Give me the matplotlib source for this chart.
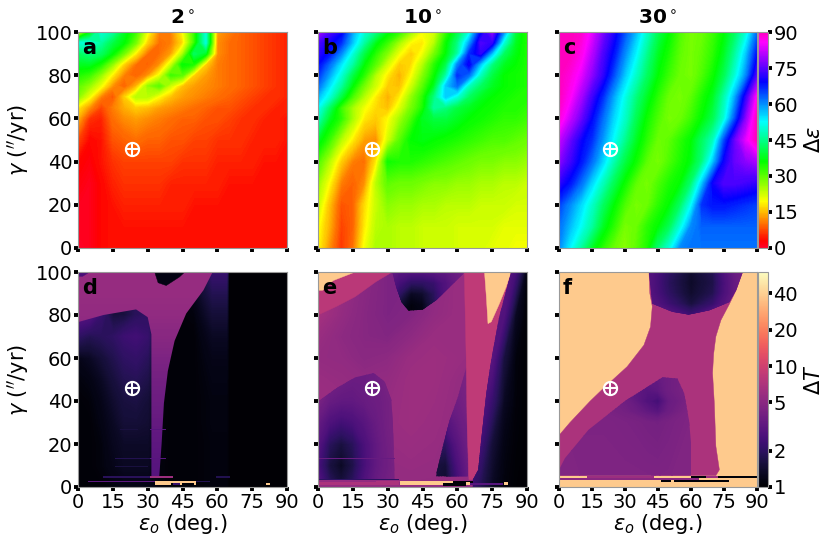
import numpy as np
import matplotlib
matplotlib.use('Agg')
import matplotlib.pyplot as plt
from matplotlib.colors import LogNorm, Normalize
from matplotlib.cm import ScalarMappable

# ---------------- panel titles / labels ----------------
titles = ['2', '10', '30']
letters = ['a', 'b', 'c', 'd', 'e', 'f']
xticks = [0, 15, 30, 45, 60, 75, 90]
yticks = [0, 20, 40, 60, 80, 100]
cb1_ticks = [0, 15, 30, 45, 60, 75, 90]
cb2_ticks = [1, 2, 5, 10, 20, 40]
earth_eps, earth_gam = 23.4, 46

# ---------------- top row: Delta epsilon ----------------
eps5 = [0, 5, 10, 15, 20, 25, 30, 35, 40, 45, 50, 55, 60, 65, 70, 75, 80, 85, 90]
gam_a = [0, 10, 20, 30, 40, 50, 60, 65, 70, 75, 80, 85, 90, 95, 100]
a_vals = [
    [0,1,3,4,4,4,4,4,4,4,4,4,4,4,4,4,4,4,4],
    [1,1,3,4,4,4,4,4,4,4,4,4,4,4,4,4,4,4,4],
    [1,1,3,4,5,5,5,5,5,5,4,4,4,4,4,4,4,4,4],
    [2,1,3,5,6,6,6,6,5,5,5,5,5,4,4,4,4,4,4],
    [3,2,4,6,7,7,7,7,7,6,6,6,5,5,5,5,4,4,4],
    [7,3,4,8,9,10,9,9,8,8,7,7,6,6,6,5,5,5,4],
    [14,6,5,10,12,13,12,11,10,9,9,8,8,7,6,6,5,5,4],
    [18,12,7,11,14,16,15,13,12,11,10,9,8,8,7,6,6,5,5],
    [27,20,11,8,16,24,24,19,15,13,12,11,10,9,8,7,6,6,5],
    [30,26,20,12,9,14,26,30,22,15,13,12,11,10,9,8,7,6,5],
    [34,32,26,18,11,9,12,20,32,30,16,13,11,10,9,8,7,6,5],
    [38,38,34,26,16,10,9,12,22,36,34,16,11,10,9,8,7,6,5],
    [42,44,42,36,28,18,10,10,13,24,42,38,12,10,9,8,7,6,5],
    [50,50,46,40,36,28,16,10,11,17,32,50,12,10,9,8,7,6,5],
    [18,35,50,46,38,32,20,11,11,19,32,50,13,11,9,8,7,6,5],
]
gam_b = [0, 10, 20, 30, 40, 50, 60, 65, 70, 75, 80, 85, 90, 95, 100]
b_vals = [
    [19,12,6,10,20,25,25,24,24,23,23,23,22,22,22,21,21,20,20],
    [20,14,7,9,18,24,25,24,24,23,23,23,22,22,22,22,21,21,21],
    [23,15,8,9,17,23,27,26,26,25,25,24,24,24,23,23,23,22,22],
    [26,19,11,9,12,24,30,29,29,28,27,27,26,26,25,25,24,24,23],
    [31,24,16,11,10,18,35,34,34,33,32,31,30,29,28,28,27,27,26],
    [38,32,24,18,13,12,22,30,36,37,36,35,34,33,32,31,31,30,29],
    [48,38,33,25,18,16,19,25,31,38,40,40,38,36,35,34,33,33,32],
    [52,42,32,25,20,17,15,21,28,34,46,44,40,38,36,35,34,34,33],
    [57,50,40,31,24,18,14,18,26,33,44,56,50,42,38,36,35,34,34],
    [62,54,46,36,28,22,16,15,22,30,38,56,62,48,42,38,36,35,34],
    [66,58,50,40,33,24,18,14,19,27,35,46,66,62,48,40,36,35,34],
    [69,62,54,46,36,30,22,16,17,24,33,40,60,70,56,44,38,36,34],
    [72,68,60,50,40,33,27,20,16,20,28,36,46,66,72,56,42,37,34],
    [74,70,66,56,46,37,32,25,19,18,24,35,44,58,74,72,50,38,34],
    [80,74,70,58,50,44,37,33,26,20,22,32,40,50,68,78,60,40,33],
]
gam_c = [0, 10, 20, 30, 40, 50, 60, 70, 80, 90, 100]
c_vals = [
    [60,53,46,38,33,29,27,30,34,43,50,60,62,62,62,62,62,62,62],
    [62,57,52,46,38,33,28,29,33,36,41,50,60,63,63,63,63,63,63],
    [65,60,55,49,42,36,31,28,29,33,36,42,52,66,68,68,67,66,65],
    [72,68,62,55,48,41,35,30,28,31,34,36,43,56,70,74,74,73,72],
    [78,73,68,62,55,47,40,35,30,28,31,34,37,44,56,70,76,78,80],
    [82,76,70,66,59,52,45,38,33,29,30,33,36,42,48,64,76,84,90],
    [88,82,76,69,62,55,49,41,35,31,28,29,32,36,41,50,64,78,90],
    [90,86,80,73,66,58,51,44,38,33,29,28,30,34,38,47,58,72,86],
    [90,88,84,78,72,64,56,49,42,36,32,29,28,31,35,41,50,60,74],
    [90,90,87,81,74,68,60,53,45,38,34,30,28,30,33,38,46,56,68],
    [90,90,89,84,77,71,64,57,49,41,36,31,28,29,32,36,42,50,62],
]

# ---------------- bottom row: Delta T ----------------
PEACH = 38
gam10 = [0, 10, 20, 30, 40, 50, 60, 70, 80, 90, 100]

# panel d
d_eps = [0, 5, 10, 15, 20, 25, 30, 35, 40, 50, 58, 64, 65, 90]
d_base = [
    [1.05,1.05,1.05,1.1,1.15,1.15,1.15,1.1,1.05,1.05,1.1,1.1,1.03,1.02],
    [1.05,1.05,1.1,1.2,1.3,1.3,1.3,1.1,1.05,1.05,1.1,1.1,1.03,1.02],
    [1.05,1.05,1.1,1.25,1.35,1.35,1.35,1.1,1.05,1.05,1.1,1.1,1.03,1.02],
    [1.05,1.05,1.15,1.3,1.5,1.5,1.45,1.1,1.05,1.05,1.12,1.12,1.03,1.02],
    [1.05,1.08,1.2,1.4,1.6,1.65,1.5,1.1,1.05,1.05,1.12,1.12,1.03,1.02],
    [1.1,1.15,1.3,1.55,1.8,1.85,1.7,1.1,1.05,1.05,1.15,1.15,1.03,1.02],
    [1.2,1.3,1.5,1.75,2.0,2.1,1.9,1.1,1.05,1.05,1.2,1.2,1.03,1.02],
    [2.0,1.8,1.9,2.0,2.3,2.4,2.2,1.1,1.05,1.05,1.3,1.3,1.03,1.02],
    [3.0,2.8,2.2,1.6,1.6,1.9,2.0,1.1,1.05,1.1,1.5,1.5,1.03,1.02],
    [3.0,2.8,2.2,1.6,1.6,1.9,2.0,1.1,1.05,1.2,1.8,1.8,1.03,1.02],
    [3.0,2.8,2.2,1.6,1.6,1.9,2.0,1.1,1.05,1.3,2.2,2.2,1.03,1.02],
]
d_t_eps = [0, 58, 54, 46.6, 41.6, 38.7, 37, 36, 35, 31.6, 31.6, 30, 25, 11, 0]
d_t_gam = [100, 100, 91.5, 80.7, 68, 54, 39, 20, 5, 5, 71, 79, 82.6, 80, 76.7]
d_t_vals = [2.9, 3.0, 3.2, 3.4, 3.7, 4.0, 4.4, 4.9, 5.4, 5.7, 5.7]
d_blob_eps = [33, 34.5, 38, 43.7, 46]
d_blob_gam = [100, 95, 93.7, 97.7, 100]
d_corner_eps = [0, 5, 2, 0]
d_corner_gam = [100, 100, 98, 98]
d_strip_lo = [33, 40.2, 43.8, 50, 4.3, 30.8, 10.8, 40.9, 51, 59.5, 81, 15.8, 30.8, 18, 30.8, 16]
d_strip_hi = [40.2, 51, 44.9, 51, 33, 40.9, 30.8, 43.8, 56.7, 65.6, 82.8, 30.8, 37.7, 26, 37.7, 30]
d_strip_bot = [1.1, 2, 1.1, 1.1, 2.2, 4, 4, 1.1, 2.2, 4, 0.9, 13, 13, 26.4, 26.4, 9.3]
d_strip_top = [2.9, 2.9, 2, 2, 2.9, 4.9, 4.9, 2, 2.9, 4.9, 2, 13.6, 13.6, 27, 27, 9.9]
d_strip_val = [PEACH, PEACH, PEACH, PEACH, 3.2, 6, 1.9, 2.2, 1.8, 1.8, PEACH, 1.8, 3, 1.6, 3, 1.6]

# panel e
e_eps = [0, 10, 20, 30, 40, 50, 60, 90]
e_gam = [0, 30, 50, 60, 70, 80, 100]
e_base = [
    [5.5,5.5,5.5,5.5,5.5,5.5,5.5,5],
    [6,6,6,5.8,6,5.8,5.5,5],
    [5.8,5.6,5.4,5.5,6,6,5.6,5],
    [5.5,5.4,5,5.2,5.8,6,5.8,5],
    [5.8,5.2,4.8,4.6,5.2,5.8,5.8,5],
    [6.5,5.5,4.8,4.4,4.6,5.4,5.8,5],
    [7,6,5,4.4,4.4,5,5.8,5],
]
e_pink_eps = [0, 32, 25, 16, 8, 0]
e_pink_gam = [100, 100, 95.5, 88.5, 84, 80]
e_peach_eps = [0, 16, 6.5, 2, 0]
e_peach_gam = [100, 100, 96, 91.5, 91.5]
e_stripe_eps = [63, 83.2, 78, 74.6, 72.5, 70.3, 69, 66.7, 65, 64.2, 63.8]
e_stripe_gam = [100, 100, 79, 59, 43.6, 22, 8, 3.4, 3.4, 30, 60]
e_tri_eps = [71.7, 83.2, 81, 78, 74.6, 73.2, 72.5]
e_tri_gam = [100, 100, 93, 85, 76.8, 76, 88.4]
e_arch_eps = [0, 8, 16, 24, 28.7, 31.6, 32.3, 33, 0]
e_arch_gam = [39.7, 46, 51, 53, 49, 40.5, 28, 3.5, 3.5]
e_arch_x = [0, 5, 10, 15, 20, 25, 30, 34]
e_arch_y = [0, 10, 20, 30, 40, 50, 60]
e_arch = [
    [3,2,1.6,2,2.8,3.5,4,4.2],
    [2.5,1.6,1.3,1.7,2.5,3.3,3.8,4.2],
    [2.9,1.9,1.6,1.9,2.6,3.3,3.9,4.2],
    [3.4,2.7,2.4,2.6,3,3.5,4,4.2],
    [4.2,3.5,3.3,3.3,3.5,3.7,4,4.2],
    [4.6,4.1,3.8,3.6,3.6,3.8,4.2,4.2],
    [4.6,4.1,3.8,3.6,3.6,3.8,4.2,4.2],
]
e_wedge_eps = [51, 53.8, 56.7, 60.3, 64, 64.1, 64.5, 51]
e_wedge_gam = [6.5, 19, 31, 42, 56, 30, 5, 5]
e_wedge_x = [50, 55, 60, 65]
e_wedge_y = [0, 10, 20, 30, 40, 60]
e_wedge = [
    [1.5,1.4,2.3,3.4],
    [1.6,1.5,2.6,3.6],
    [2,2,3,3.8],
    [2.8,2.8,3.4,4],
    [3.5,3.5,3.8,4.2],
    [4,4,4.2,4.5],
]
e_right_eps = [83.2, 78, 74.6, 72.5, 70.3, 69, 66.7, 66.7, 90, 90]
e_right_gam = [100, 79, 59, 43.6, 22, 8, 3.4, 0, 0, 100]
e_right_x = [66, 70, 75, 80, 85, 90]
e_right_y = [0, 20, 40, 60, 80, 100]
e_right = [
    [2.2,1.8,1.3,1.1,1.03,1.02],
    [2.8,2.4,1.5,1.15,1.05,1.02],
    [3,3,2.2,1.3,1.08,1.02],
    [3,3,3,1.6,1.1,1.02],
    [3,3,3,2.8,1.3,1.02],
    [3,3,3,3.2,2.5,1.03],
]
e_blob_eps = [32, 63, 62.4, 56.7, 51, 45, 39, 36, 33.7]
e_blob_gam = [100, 100, 99, 93, 87, 82.5, 82, 86, 93]
e_blob_x = [30, 35, 40, 45, 50, 55, 60, 65]
e_blob_y = [80, 85, 90, 95, 100]
e_blob = [
    [3,1.2,1.1,1.15,2,3.5,4.5,5],
    [3,1.5,1.1,1.2,1.8,3,4,5],
    [3,2,1.3,1.4,1.9,2.8,3.7,4.5],
    [3.2,2.5,2,2,2.2,2.8,3.5,4.2],
    [3.5,3,2.8,2.8,3,3.2,3.6,4.2],
]
e_strip_lo = [0, 0, 25, 35.2, 53.8, 58, 65.3, 80.3, 63.8, 0]
e_strip_hi = [35, 35, 39, 58.1, 63.8, 66.7, 79.6, 82, 65.3, 33]
e_strip_bot = [0.9, 3.1, 2.2, 0.9, 0.3, 2, 0.8, 0.9, 0.9, 13]
e_strip_top = [2.2, 3.8, 3, 2.9, 2, 2.9, 2, 2.2, 2.2, 13.6]
e_strip_val = [7, 2.0, 7, PEACH, 1.05, 1.05, 3, PEACH, PEACH, 3.5]

# panel f
f_mid_eps = [0, 5, 14.2, 20.3, 31, 38.6, 41.6, 42.4, 41.3, 40.9, 83.5, 80.5, 77.4, 73.6, 71.3, 70.3,
             69.8, 70.6, 71.3, 72.9, 71.3, 0]
f_mid_gam = [24, 30, 40, 46, 56, 66, 74.5, 84, 90, 100, 100, 91.5, 85, 77.6, 70, 62,
             53, 39, 19, 8, 5.3, 5.3]
f_low_eps = [0, 2.7, 13.4, 30, 37.8, 47, 53.8, 56.9, 59.1, 60.7, 61.7, 0]
f_low_gam = [8, 13.4, 26.6, 40, 45, 51, 50.5, 43.6, 31, 12.7, 5.3, 5.3]
f_low_x = [0, 10, 20, 30, 40, 45, 50, 60]
f_low_y = [0, 30, 35, 40, 45, 55]
f_low = [
    [4.5,4.5,4.5,4.5,4.5,4.5,4.5,4.5],
    [4.5,4.4,4.4,4.3,4.1,4,4.2,4.5],
    [4.5,4.4,4.3,4.0,3.3,3,3.7,4.5],
    [4.5,4.4,4.3,3.8,2.8,2.4,3.5,4.3],
    [4.5,4.4,4.2,3.4,3,3.2,3.8,4.3],
    [4.2,4.2,4.2,4,3.6,3.5,3.8,4.2],
]
f_disc_eps = [40.9, 83.5, 80.5, 77.4, 68.3, 59, 51.5, 42.4]
f_disc_gam = [100, 100, 91.5, 86, 82.2, 80.2, 81.5, 85.3]
f_disc_x = [40, 50, 60, 70, 80, 85]
f_disc_y = [80, 85, 90, 95, 100]
f_disc = [
    [3.6,3,2.3,3.2,4,4],
    [3.2,2.3,1.6,2.2,3.6,4],
    [3,2,1.4,1.8,3.4,4],
    [3,1.9,1.35,1.7,3.4,4],
    [3,2,1.4,1.8,3.5,4],
]
f_mid_val = 7
f_strip_lo = [12.7, 59.9, 66.8, 72.1, 0, 46.2, 52.3, 63.7]
f_strip_hi = [43.1, 66.8, 72.1, 90, 63.7, 50.8, 77.4, 90]
f_strip_bot = [4.2, 4.2, 4.2, 4.2, 3.1, 2.2, 2.2, 3.1]
f_strip_top = [5.3, 5.3, 5.3, 5.3, 4.2, 3.1, 3.1, 4.2]
f_strip_val = [6, 1.05, 6, 1.05, 5, 1.05, 1.05, PEACH]

# ---------------- drawing ----------------
W, H = 831, 546
fig = plt.figure(figsize=(W / 100, H / 100), dpi=100)
FS = 14
LS = 15


def box(x0, y0, x1, y1):
    return [x0 / W, 1 - y1 / H, (x1 - x0) / W, (y1 - y0) / H]


cols = [(78, 287), (318, 527), (559, 757)]
rows = [(32, 248), (272, 487)]
axes = [fig.add_axes(box(c[0], r[0], c[1], r[1])) for r in rows for c in cols]

norm1 = Normalize(0, 90)
norm2 = LogNorm(1, 60)
levels1 = np.linspace(0, 90, 271)
levels2 = np.geomspace(1, 60, 271)


def field1(ax, x, y, z):
    ax.contourf(x, y, np.array(z, float), levels=levels1, cmap='gist_rainbow', norm=norm1, extend='both')


def field2(ax, x, y, z, region=None):
    cs = ax.contourf(x, y, np.array(z, float), levels=levels2, cmap='magma', norm=norm2, extend='both')
    if region is not None:
        cs.set_clip_path(region)


def flat(v):
    return plt.get_cmap('magma')(norm2(v))


def region(ax, xs, ys, v=None):
    col = flat(v) if v is not None else (0, 0, 0, 0)
    return ax.fill(xs, ys, facecolor=col, edgecolor=col if v is not None else 'none', lw=0.3)[0]


def strips(ax, lo, hi, bot, top, val):
    for a, b, c, d, v in zip(lo, hi, bot, top, val):
        ax.fill_between([a, b], c, d, color=flat(v), lw=0)


field1(axes[0], eps5, gam_a, a_vals)
field1(axes[1], eps5, gam_b, b_vals)
field1(axes[2], eps5, gam_c, c_vals)

# d
ax = axes[3]
field2(ax, d_eps, gam10, d_base)
reg = region(ax, d_t_eps, d_t_gam)
field2(ax, [0, 90], gam10, [[v, v] for v in d_t_vals], reg)
region(ax, d_blob_eps, d_blob_gam, 1.15)
region(ax, d_corner_eps, d_corner_gam, 2.6)
strips(ax, d_strip_lo, d_strip_hi, d_strip_bot, d_strip_top, d_strip_val)

# e
ax = axes[4]
field2(ax, e_eps, e_gam, e_base)
region(ax, e_pink_eps, e_pink_gam, 8)
region(ax, e_peach_eps, e_peach_gam, PEACH)
field2(ax, e_arch_x, e_arch_y, e_arch, region(ax, e_arch_eps, e_arch_gam))
field2(ax, e_wedge_x, e_wedge_y, e_wedge, region(ax, e_wedge_eps, e_wedge_gam))
field2(ax, e_blob_x, e_blob_y, e_blob, region(ax, e_blob_eps, e_blob_gam))
region(ax, e_stripe_eps, e_stripe_gam, 8.5)
region(ax, e_tri_eps, e_tri_gam, PEACH)
field2(ax, e_right_x, e_right_y, e_right, region(ax, e_right_eps, e_right_gam))
strips(ax, e_strip_lo, e_strip_hi, e_strip_bot, e_strip_top, e_strip_val)

# f
ax = axes[5]
ax.set_facecolor(flat(PEACH))
region(ax, f_mid_eps, f_mid_gam, f_mid_val)
field2(ax, f_low_x, f_low_y, f_low, region(ax, f_low_eps, f_low_gam))
field2(ax, f_disc_x, f_disc_y, f_disc, region(ax, f_disc_eps, f_disc_gam))
strips(ax, f_strip_lo, f_strip_hi, f_strip_bot, f_strip_top, f_strip_val)

for i, ax in enumerate(axes):
    ax.set_xlim(0, 90)
    ax.set_ylim(0, 100)
    ax.set_xticks(xticks)
    ax.set_yticks(yticks)
    ax.tick_params(length=3, width=2.8, labelsize=FS, pad=1,
                   labelbottom=i >= 3, labelleft=i % 3 == 0)
    for s in ax.spines.values():
        s.set_color('#999999')
        s.set_linewidth(0.8)
    ax.text(0.02, 0.925, letters[i], transform=ax.transAxes, fontsize=15,
            fontweight='bold', color='k', va='center', ha='left')
    ax.plot(earth_eps, earth_gam, 'o', mfc='none', mec='w', ms=9.5, mew=1.5, zorder=10)
    ax.plot(earth_eps, earth_gam, '+', mec='w', ms=9.5, mew=1.5, zorder=10)
    if i >= 3:
        ax.set_xlabel(r'$\varepsilon_o$ (deg.)', fontsize=LS, labelpad=0)
    if i % 3 == 0:
        ax.set_ylabel(r'$\gamma$ ($^{\prime\prime}$/yr)', fontsize=LS, labelpad=3)
    if i < 3:
        ax.set_title(titles[i] + r'$^\circ$', fontsize=14.5, fontweight='bold', pad=6)

cax1 = fig.add_axes(box(758, 32, 768, 248))
cb1 = fig.colorbar(ScalarMappable(norm1, 'gist_rainbow'), cax=cax1, ticks=cb1_ticks)
cb1.set_label(r'$\Delta\varepsilon$', fontsize=LS, labelpad=4)
cax2 = fig.add_axes(box(758, 272, 768, 487))
cb2 = fig.colorbar(ScalarMappable(norm2, 'magma'), cax=cax2)
cb2.set_ticks(cb2_ticks, labels=[str(t) for t in cb2_ticks])
cb2.ax.minorticks_off()
cb2.set_label(r'$\Delta T$', fontsize=LS, labelpad=4)
for cb in (cb1, cb2):
    cb.ax.tick_params(length=3, width=2.8, labelsize=FS, pad=1)
    cb.outline.set_edgecolor('#999999')
    cb.outline.set_linewidth(0.8)

fig.savefig('out.png', dpi=100)
